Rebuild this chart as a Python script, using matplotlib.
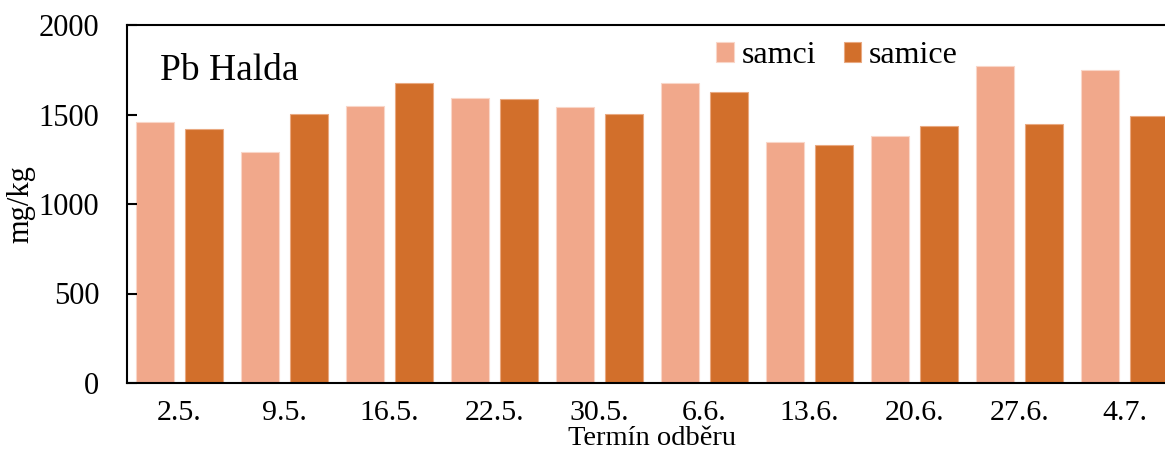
import matplotlib
matplotlib.use("Agg")
import matplotlib.pyplot as plt
import numpy as np

plt.rcParams['font.family'] = ['Liberation Serif', 'DejaVu Serif']

dates = ["2.5.", "9.5.", "16.5.", "22.5.", "30.5.", "6.6.", "13.6.", "20.6.", "27.6.", "4.7."]
samci = [1460, 1289, 1546, 1592, 1544, 1674, 1346, 1380, 1771, 1747]
samice = [1419, 1503, 1674, 1585, 1501, 1627, 1330, 1436, 1445, 1493]

c_samci = "#F1A88B"
c_samice = "#D26F2B"

W, H = 1165, 463
fig = plt.figure(figsize=(W / 100, H / 100), dpi=100)
# the plot area runs past the right edge of the figure
left, right, bottom, top = 127, 1177, 383, 25
ax = fig.add_axes([left / W, 1 - bottom / H, (right - left) / W, (bottom - top) / H])

x = np.arange(len(dates))
bw = 0.362
off = 0.229
ax.bar(x - off, samci, bw, color=c_samci, edgecolor="#F9D6C8", linewidth=0.8, label="samci")
ax.bar(x + off, samice, bw, color=c_samice, edgecolor="#E9A981", linewidth=0.8, label="samice")

ax.set_xlim(-0.5, len(dates) - 0.5)
ax.set_ylim(0, 2000)
ax.set_yticks([0, 500, 1000, 1500, 2000])
ax.set_xticks(x)
ax.set_xticklabels(dates)

for s in ["left", "bottom", "top"]:
    ax.spines[s].set_linewidth(1.5)
    ax.spines[s].set_color("black")
ax.spines["right"].set_visible(False)

ax.tick_params(axis="y", direction="in", length=7, width=1.5, labelsize=22, pad=20)
ax.tick_params(axis="x", length=0, labelsize=21.5, pad=12)

ax.set_ylabel("mg/kg", fontsize=22, labelpad=2)
ax.set_xlabel("Termín odběru", fontsize=20.5, labelpad=0.5)

ax.text(0.031, 0.845, "Pb Halda", transform=ax.transAxes, fontsize=27,
        ha="left", va="baseline")

ax.legend(loc="upper left", bbox_to_anchor=(0.543, 1.008), ncol=2, frameon=False,
          fontsize=23, handlelength=0.55, handleheight=0.55, handletextpad=0.25,
          columnspacing=0.85, borderaxespad=0.2)

fig.savefig("out.png", dpi=100)
